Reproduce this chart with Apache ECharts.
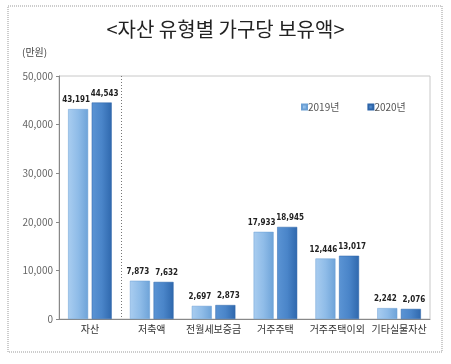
<!DOCTYPE html>
<html><head><meta charset="utf-8">
<script src="https://cdn.jsdelivr.net/npm/echarts@6/dist/echarts.min.js"></script>
<style>html,body{margin:0;padding:0;background:#fff}#c{width:451px;height:364px}</style>
</head><body><div id="c"></div>
<script>
const categories = ['자산','저축액','전월세보증금','거주주택','거주주택이외','기타실물자산'];
const values2019 = [43191, 7873, 2697, 17933, 12446, 2242];
const values2020 = [44543, 7632, 2873, 18945, 13017, 2076];
const seriesNames = ['2019년','2020년'];
const yTicks = {min:0, max:50000, interval:10000};

const font = '"Noto Sans CJK KR", "Noto Sans", sans-serif';
const chart = echarts.init(document.getElementById('c'));
function grad(c1,c2,c3){return new echarts.graphic.LinearGradient(0,0,1,0,[{offset:0,color:c1},{offset:0.5,color:c2},{offset:1,color:c3}]);}
function lbl(dx){return {show:true, position:'top', distance:5, offset:[dx,0], fontSize:8, fontWeight:'bold', color:'#222',
  fontFamily:'"Liberation Sans Narrow", "DejaVu Sans Condensed", "Liberation Sans", sans-serif',
  formatter:p=>p.value.toLocaleString('en-US')};}
const baseGraphic = [
  {type:'rect', shape:{x:8,y:6,width:434,height:346}, style:{fill:'none', stroke:'#999', lineWidth:1, lineDash:[1,1]}, silent:true},
  {type:'text', left:22, top:47, style:{text:'(만원)', fontSize:10, fill:'#444', fontFamily:font}}
];
chart.setOption({
  animation:false,
  title:{text:'<자산 유형별 가구당 보유액>', left:'center', top:14, textStyle:{fontSize:20, fontWeight:'normal', color:'#222', fontFamily:font}},
  graphic:baseGraphic,
  legend:{top:97, left:296, itemWidth:5, itemHeight:5, itemGap:28, icon:'rect',
    textStyle:{fontSize:10, color:'#555', fontFamily:font, padding:[0,0,0,-4]}, data:seriesNames},
  grid:{left:59, right:21, top:76, bottom:45, show:true, borderColor:'#c8c8c8', borderWidth:1},
  xAxis:{type:'category', data:categories,
    axisLine:{lineStyle:{color:'#888'}}, axisTick:{show:false},
    axisLabel:{fontSize:10, color:'#333', fontFamily:font, margin:5, interval:0}},
  yAxis:{type:'value', min:yTicks.min, max:yTicks.max, interval:yTicks.interval,
    axisLine:{show:true, lineStyle:{color:'#888'}}, axisTick:{show:true, length:3, lineStyle:{color:'#888'}},
    splitLine:{show:false},
    axisLabel:{fontSize:10, color:'#666', fontFamily:font, margin:6, formatter:v=>v.toLocaleString('en-US')}},
  series:[
    {name:seriesNames[0], type:'bar', data:values2019, barWidth:20, barGap:'18%',
     itemStyle:{color:grad('#a9cdf0','#8fbce8','#6ea3d8'), borderColor:'#6b9fd4', borderWidth:0.5}, label:lbl(-2)},
    {name:seriesNames[1], type:'bar', data:values2020, barWidth:20,
     itemStyle:{color:grad('#5b94d4','#4a85c9','#2f68ad'), borderColor:'#2d64a8', borderWidth:0.5}, label:lbl(3)}
  ]
});
// dotted separator between first and second category
const x0 = chart.convertToPixel({xAxisIndex:0}, categories[0]);
const x1 = chart.convertToPixel({xAxisIndex:0}, categories[1]);
const yTop = chart.convertToPixel({yAxisIndex:0}, yTicks.max);
const yBot = chart.convertToPixel({yAxisIndex:0}, yTicks.min);
const sx = Math.round((x0 + x1) / 2) + 0.5;
chart.setOption({graphic: baseGraphic.concat([
  {type:'line', shape:{x1:sx, y1:yTop, x2:sx, y2:yBot}, style:{stroke:'#777', lineWidth:1, lineDash:[1,2]}, silent:true}
])});
</script></body></html>
